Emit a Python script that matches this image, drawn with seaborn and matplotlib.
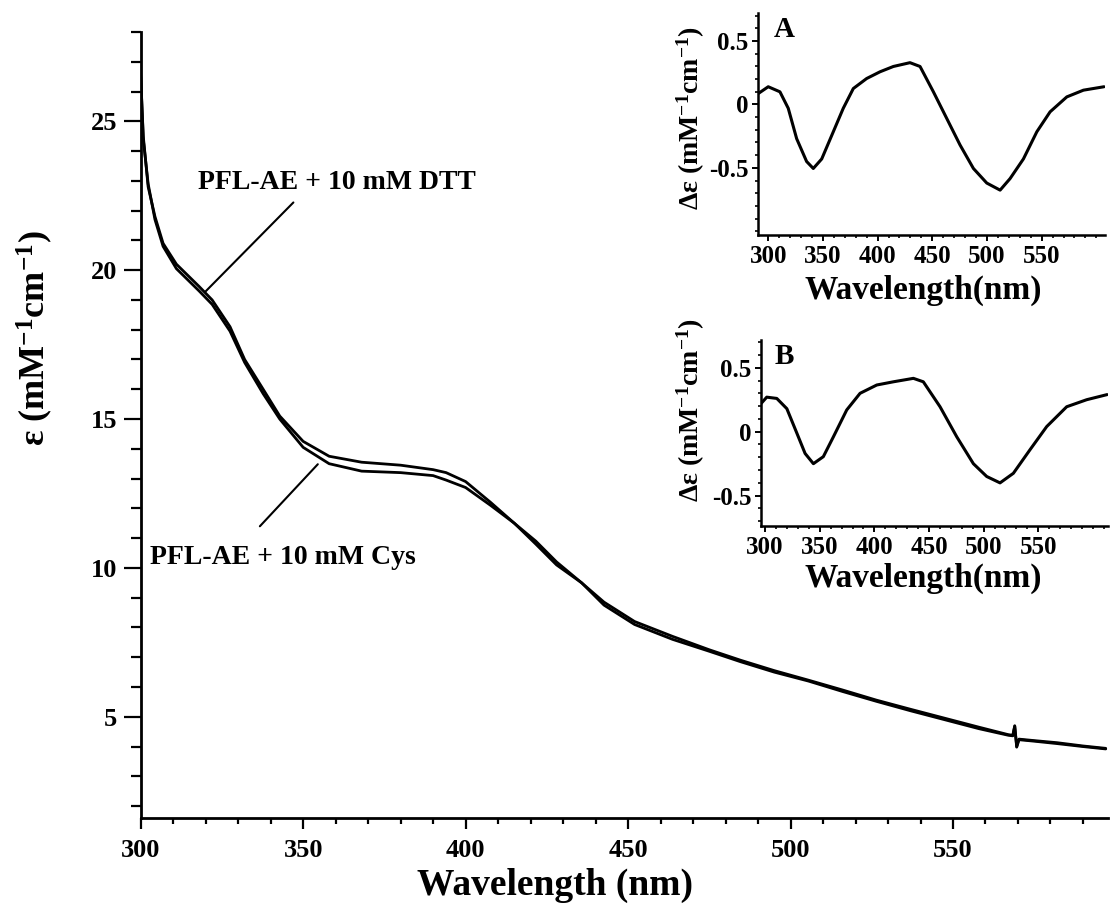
import matplotlib
matplotlib.use("Agg")
import matplotlib.pyplot as plt
from matplotlib.ticker import MultipleLocator, FixedLocator
import seaborn as sns

# main spectra (wavelength nm, epsilon mM-1 cm-1)
wl_main = [300, 300.8, 302.3, 304.4, 306.9, 311, 318, 322, 327.5, 332, 337.7, 342.8,
           350, 358, 368, 380, 390, 394, 400, 407.7, 415, 421.6, 428, 435.7, 442.6,
           452, 463.7, 475, 484.6, 495, 505.5, 516, 526.4, 537, 547.5, 558, 567,
           568.4, 569.0, 569.6, 570.3, 575, 582, 590, 597]
eps_dtt = [26.5, 24.5, 22.8, 21.8, 20.9, 20.2, 19.45, 19.0, 18.1, 17.0, 16.0, 15.1,
           14.25, 13.75, 13.55, 13.45, 13.3, 13.2, 12.9, 12.2, 11.5, 10.8, 10.1, 9.5, 8.85,
           8.2, 7.7, 7.25, 6.9, 6.55, 6.23, 5.9, 5.56, 5.25, 4.95, 4.65, 4.4,
           4.38, 4.7, 4.0, 4.25, 4.2, 4.13, 4.02, 3.94]
eps_cys = [26.6, 24.4, 22.9, 21.7, 20.8, 20.05, 19.3, 18.85, 17.95, 16.9, 15.85, 15.0,
           14.05, 13.5, 13.25, 13.2, 13.1, 12.95, 12.7, 12.1, 11.5, 10.9, 10.2, 9.5, 8.75,
           8.1, 7.6, 7.2, 6.85, 6.5, 6.2, 5.85, 5.52, 5.2, 4.9, 4.6, 4.38,
           4.36, 4.68, 3.98, 4.23, 4.18, 4.1, 4.0, 3.92]

# inset A difference spectrum
wl_a = [291, 300, 310.7, 318.3, 326, 335.1, 341.2, 348.9, 359.5, 368.6, 377.8, 390,
        402.2, 414.4, 429.6, 438.8, 451, 463.2, 475.4, 487.6, 499.8, 512, 521.1, 533.3,
        545.6, 557.7, 573, 588.2, 607]
de_a = [0.087, 0.14, 0.10, -0.03, -0.27, -0.45, -0.505, -0.43, -0.215, -0.03, 0.126, 0.205,
        0.258, 0.30, 0.33, 0.30, 0.10, -0.11, -0.32, -0.505, -0.62, -0.676, -0.585, -0.43,
        -0.215, -0.058, 0.06, 0.113, 0.14]

# inset B difference spectrum
wl_b = [296.3, 301.5, 310.7, 319.9, 329, 336.6, 344.2, 353.3, 362.5, 374.7, 386.9, 402.2,
        417.4, 435.7, 444.8, 460.1, 475.4, 490.6, 502.8, 515, 527.2, 542.5, 557.7, 576,
        594.3, 613]
de_b = [0.22, 0.27, 0.26, 0.18, -0.01, -0.17, -0.25, -0.195, -0.04, 0.17, 0.30, 0.365,
        0.39, 0.417, 0.39, 0.195, -0.04, -0.25, -0.35, -0.40, -0.325, -0.14, 0.04, 0.195,
        0.25, 0.29]

main_xticks = [300, 350, 400, 450, 500, 550]
main_yticks = [5, 10, 15, 20, 25]
inset_yticks = [-0.5, 0, 0.5]
inset_ylabels = ["-0.5", "0", "0.5"]

sns.set_style("ticks")
plt.rcParams["font.family"] = ["Liberation Serif", "DejaVu Serif"]
plt.rcParams["font.weight"] = "bold"
plt.rcParams["mathtext.fontset"] = "custom"
plt.rcParams["mathtext.rm"] = "Liberation Serif:bold"
plt.rcParams["mathtext.bf"] = "Liberation Serif:bold"
plt.rcParams["mathtext.it"] = "Liberation Serif:bold"
for key in ["text.color", "axes.labelcolor", "xtick.color", "ytick.color", "axes.edgecolor"]:
    plt.rcParams[key] = "black"

fig = plt.figure(figsize=(11.12, 9.08), dpi=100)

# main panel
ax = fig.add_axes([0.1265, 0.0991, 0.8699, 0.8657])
sns.lineplot(x=wl_main, y=eps_dtt, ax=ax, color="black", lw=2.0, estimator=None, sort=False,
             solid_joinstyle="round")
sns.lineplot(x=wl_main, y=eps_cys, ax=ax, color="black", lw=2.0, estimator=None, sort=False,
             solid_joinstyle="round")
ax.set_xlim(300, 597.7)
ax.set_ylim(1.6, 28)
sns.despine(ax=ax)
for s in ["left", "bottom"]:
    ax.spines[s].set_linewidth(2.0)
ax.xaxis.set_major_locator(FixedLocator(main_xticks))
ax.xaxis.set_minor_locator(MultipleLocator(10))
ax.yaxis.set_major_locator(FixedLocator(main_yticks))
ax.yaxis.set_minor_locator(MultipleLocator(1))
ax.tick_params(axis="x", which="major", length=8, width=1.6, labelsize=19, pad=7, direction="out")
ax.tick_params(axis="x", which="minor", length=4.5, width=1.6, direction="out")
ax.tick_params(axis="y", which="major", length=12, width=1.6, labelsize=19, pad=5, direction="out")
ax.tick_params(axis="y", which="minor", length=7, width=1.6, direction="out")
for lab in ax.get_xticklabels() + ax.get_yticklabels():
    lab.set_fontweight("bold")

ax.text(317.6, 22.94, "PFL-AE + 10 mM DTT", fontsize=20, fontweight="bold", ha="left", va="center")
ax.annotate("", xy=(319.2, 19.2), xytext=(347.6, 22.34),
            arrowprops=dict(arrowstyle="-", color="black", lw=1.5))
ax.text(302.9, 10.36, "PFL-AE + 10 mM Cys", fontsize=20, fontweight="bold", ha="left", va="center")
ax.annotate("", xy=(355.1, 13.55), xytext=(336.1, 11.33),
            arrowprops=dict(arrowstyle="-", color="black", lw=1.5))

fig.text(0.499, 0.0253, "Wavelength (nm)", fontsize=27, fontweight="bold", ha="center", va="center")
fig.text(0.0315, 0.6278, r"ε (mM$^{-1}$cm$^{-1}$)", fontsize=26, fontweight="bold",
         rotation=90, ha="center", va="center")


def inset(rect, wl, de, ylim, xlim, letter, letter_y, xlabel_y, ylabel_y):
    a = fig.add_axes(rect)
    sns.lineplot(x=wl, y=de, ax=a, color="black", lw=2.2, estimator=None, sort=False,
                 solid_joinstyle="round")
    a.set_xlim(*xlim)
    a.set_ylim(*ylim)
    a.patch.set_alpha(0)
    sns.despine(ax=a)
    for s in ["left", "bottom"]:
        a.spines[s].set_linewidth(1.8)
    a.xaxis.set_major_locator(FixedLocator(main_xticks))
    a.xaxis.set_minor_locator(MultipleLocator(10))
    a.yaxis.set_major_locator(FixedLocator(inset_yticks))
    a.yaxis.set_minor_locator(MultipleLocator(0.1))
    a.set_yticklabels(inset_ylabels)
    a.tick_params(which="major", length=4, width=1.4, labelsize=18, pad=3)
    a.tick_params(which="minor", length=2.5, width=1.2)
    for lab in a.get_xticklabels() + a.get_yticklabels():
        lab.set_fontweight("bold")
    fig.text(0.705, letter_y, letter, fontsize=21, fontweight="bold", ha="center", va="center")
    fig.text(0.8305, xlabel_y, "Wavelength(nm)", fontsize=24, fontweight="bold",
             ha="center", va="center")
    fig.text(0.621, ylabel_y, r"Δε (mM$^{-1}$cm$^{-1}$)", fontsize=20, fontweight="bold",
             rotation=90, ha="center", va="center")
    return a


inset([0.682, 0.7412, 0.3118, 0.2442], wl_a, de_a, (-1.03, 0.72), (291, 608),
      "A", 0.968, 0.6806, 0.870)
inset([0.6844, 0.4207, 0.312, 0.2049], wl_b, de_b, (-0.737, 0.717), (296.3, 613.8),
      "B", 0.607, 0.3634, 0.548)

fig.savefig("out.png", dpi=100)
